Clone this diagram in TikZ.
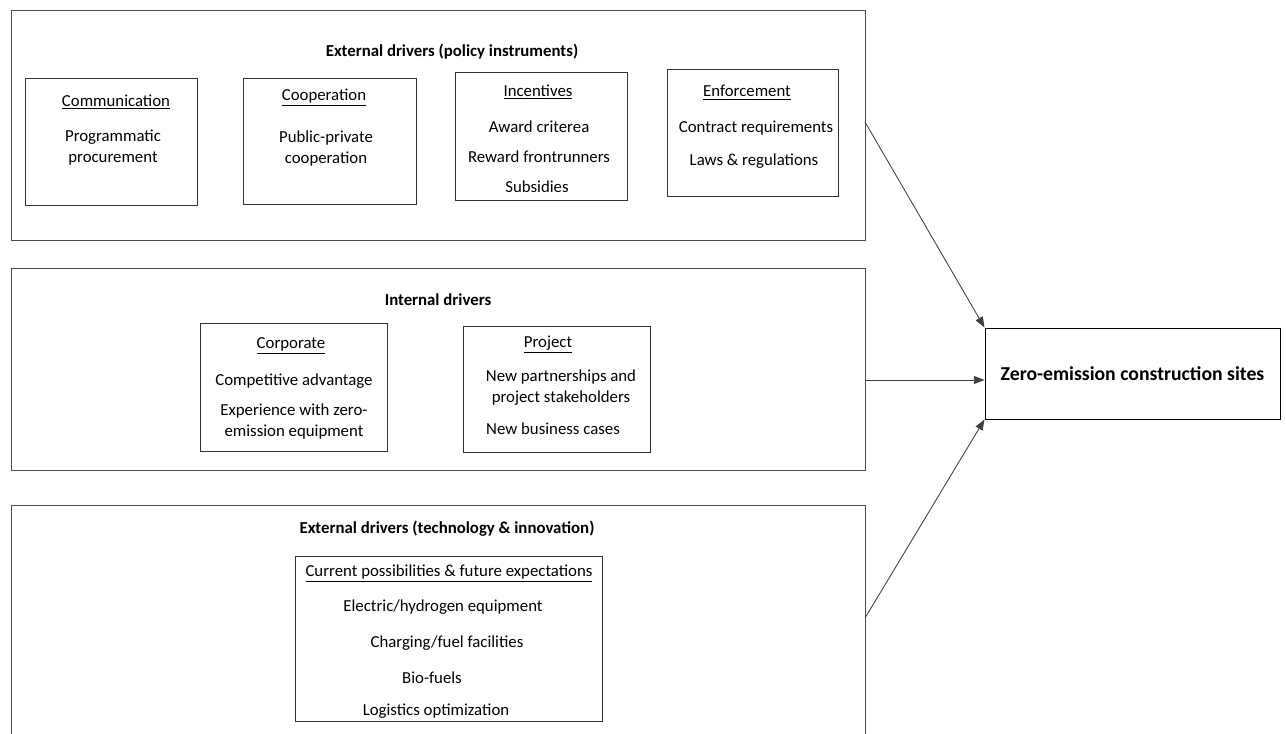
\documentclass[tikz,border=0pt]{standalone}
\usepackage{fontspec}
\setmainfont{Carlito}
\usetikzlibrary{arrows.meta,positioning}
\begin{document}
\begin{tikzpicture}[x=0.75pt,y=-0.75pt,
  frame/.style={draw=black!70,line width=0.7pt},
  inner/.style={draw=black!80,line width=0.7pt},
  hdr/.style={font=\fontsize{12.6}{15.75}\selectfont\bfseries,inner sep=0pt,yshift=-1.2pt},
  txt/.style={font=\fontsize{12.6}{15.75}\selectfont,inner sep=0pt,align=center,yshift=-1.2pt},
  conn/.style={draw=black!75,line width=0.65pt,-{Triangle[length=8pt,width=6pt]}}]
\useasboundingbox (0,0) rectangle (1286,734);
\clip (0,0) rectangle (1286,734);

% outer groups
\draw[frame] (11,10) rectangle (865,240);
\draw[frame] (11,268) rectangle (865,470);
\draw[frame] (11,505) rectangle (865,760);
\coordinate (g1) at (865,122);
\coordinate (g2) at (865,380);
\coordinate (g3) at (865,618);

\node[hdr] (t1) at (452,50) {External drivers (policy instruments)};
\node[hdr] (t2) at (438,298) {Internal drivers};
\node[hdr] (t3) at (447,527) {External drivers (technology \& innovation)};

% policy instruments
\draw[inner] (25,78) rectangle (197,205);
\node[txt] (c1h) at (116,100) {\underline{Communication}};
\node[txt] (c1a) at (113,146) {Programmatic\\procurement};

\draw[inner] (243,78) rectangle (416,204);
\node[txt] (c2h) at (324,96) {\underline{Cooperation}};
\node[txt] (c2a) at (326,147) {Public-private\\cooperation};

\draw[inner] (455,72) rectangle (627,200);
\node[txt] (c3h) at (538,90) {\underline{Incentives}};
\node[txt] (c3a) at (539,125) {Award criterea};
\node[txt] (c3b) at (539,155) {Reward frontrunners};
\node[txt] (c3c) at (537,185) {Subsidies};

\draw[inner] (667,69) rectangle (838,196);
\node[txt] (c4h) at (747,91) {\underline{Enforcement}};
\node[txt] (c4a) at (756,126) {Contract requirements};
\node[txt] (c4b) at (754,160) {Laws \& regulations};

% internal drivers
\draw[inner] (200,323) rectangle (387,451);
\node[txt] (d1h) at (291,344) {\underline{Corporate}};
\node[txt] (d1a) at (294,380) {Competitive advantage};
\node[txt] (d1b) at (294,420) {Experience with zero-\\emission equipment};

\draw[inner] (463,326) rectangle (650,452);
\node[txt] (d2h) at (548,343) {\underline{Project}};
\node[txt] (d2a) at (561,386) {New partnerships and\\project stakeholders};
\node[txt] (d2b) at (553,427) {New business cases};

% technology & innovation
\draw[inner] (295,556) rectangle (602,721);
\node[txt] (e1h) at (449,572) {\underline{Current possibilities \& future expectations}};
\node[txt] (e1a) at (443,606) {Electric/hydrogen equipment};
\node[txt] (e1b) at (447,642) {Charging/fuel facilities};
\node[txt] (e1c) at (432,676) {Bio-fuels};
\node[txt] (e1d) at (436,710) {Logistics optimization};

% outcome
\node[draw=black,line width=0.7pt,minimum width=295*0.75pt,minimum height=91*0.75pt,
  font=\fontsize{14.8}{17}\selectfont\bfseries] (zero) at (1132.5,373.5) {Zero-emission construction sites};

% connectors
\draw[conn] (g1) -- (zero.north west);
\draw[conn] (g2) -- (g2 -| zero.west);
\draw[conn] (g3) -- (zero.south west);
\end{tikzpicture}
\end{document}
